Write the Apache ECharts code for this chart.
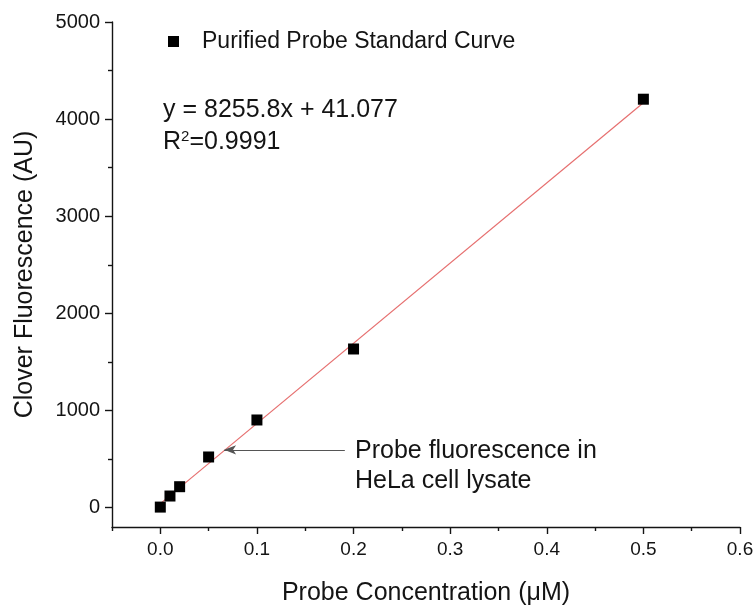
<!DOCTYPE html>
<html><head><meta charset="utf-8">
<script src="https://cdn.jsdelivr.net/npm/echarts@6/dist/echarts.min.js"></script>
<style>html,body{margin:0;padding:0;background:#fff}#c{width:753px;height:611px}</style>
</head><body><div id="c"></div>
<script>
const concX = [0, 0.01, 0.02, 0.05, 0.1, 0.2, 0.5];
const fluorY = [5, 119, 215, 521, 902, 1633, 4205];
const fitX = [0, 0.5];
const fitY = [41, 4169];
const lysatePoint = [0.066, 595];
const arrowTailX = 0.191;
const xTicks = [0, 0.1, 0.2, 0.3, 0.4, 0.5, 0.6];
const xMinorTicks = [-0.05, 0.05, 0.15, 0.25, 0.35, 0.45, 0.55];
const yTicks = [0, 1000, 2000, 3000, 4000, 5000];
const yMinorTicks = [500, 1500, 2500, 3500, 4500];

const font = 'Liberation Sans, Arial, sans-serif';
const ink = '#141414';
const chart = echarts.init(document.getElementById('c'));
const axCommon = {type: 'value', min: -0.05, max: 0.6, splitLine: {show: false}};
chart.setOption({
  animation: false,
  grid: {left: 112, right: 13, top: 22, bottom: 84, containLabel: false, outerBoundsMode: 'none'},
  legend: {
    data: ['Purified Probe Standard Curve'],
    left: 163, top: 25, icon: 'rect', itemWidth: 11, itemHeight: 11, itemGap: 10,
    textStyle: {fontFamily: font, fontSize: 23, color: ink, padding: [0, 0, 0, 18]}
  },
  xAxis: [
    Object.assign({}, axCommon, {
      name: 'Probe Concentration (\u03bcM)', nameLocation: 'middle', nameGap: 54,
      nameTextStyle: {fontFamily: font, fontSize: 25, color: ink},
      axisLine: {show: true, onZero: false, lineStyle: {color: ink, width: 1.4}},
      axisTick: {show: true, length: 7, customValues: xTicks, lineStyle: {color: ink, width: 1.4}},
      axisLabel: {customValues: xTicks, fontFamily: font, fontSize: 19, color: ink, margin: 13,
        formatter: v => v.toFixed(1)}
    }),
    Object.assign({}, axCommon, {
      position: 'bottom',
      axisLine: {show: false, onZero: false},
      axisTick: {show: true, length: 4, customValues: xMinorTicks, lineStyle: {color: ink, width: 1.4}},
      axisLabel: {show: false}
    })
  ],
  yAxis: [
    {
      type: 'value', min: -200, max: 5000, splitLine: {show: false},
      name: 'Clover Fluorescence (AU)', nameLocation: 'middle', nameGap: 74,
      nameTextStyle: {fontFamily: font, fontSize: 25, color: ink},
      axisLine: {show: true, onZero: false, lineStyle: {color: ink, width: 1.4}},
      axisTick: {show: true, length: 7, customValues: yTicks, lineStyle: {color: ink, width: 1.4}},
      axisLabel: {customValues: yTicks, fontFamily: font, fontSize: 20, color: ink, margin: 12,
        formatter: v => String(v)}
    },
    {
      type: 'value', min: -200, max: 5000, position: 'left', splitLine: {show: false},
      axisLine: {show: false, onZero: false},
      axisTick: {show: true, length: 4, customValues: yMinorTicks, lineStyle: {color: ink, width: 1.4}},
      axisLabel: {show: false}
    }
  ],
  series: [
    {
      name: 'fit', type: 'line', data: fitX.map((x, i) => [x, fitY[i]]),
      showSymbol: false, symbol: 'none', lineStyle: {color: '#e66f6f', width: 1.2}, z: 2,
      markLine: {
        silent: true, symbol: ['none', 'arrow'], symbolSize: [7, 12],
        lineStyle: {color: '#555', width: 1, type: 'solid'}, label: {show: false},
        data: [[{coord: [arrowTailX, lysatePoint[1]]}, {coord: lysatePoint}]]
      }
    },
    {
      name: 'Purified Probe Standard Curve', type: 'scatter', symbol: 'rect', symbolSize: 11,
      itemStyle: {color: '#000', opacity: 1}, data: concX.map((x, i) => [x, fluorY[i]]), z: 3
    }
  ],
  graphic: [
    {type: 'text', x: 163, y: 98, style: {text: 'y = 8255.8x + 41.077', font: '25px ' + font, fill: ink}},
    {type: 'text', x: 163, y: 129, style: {
      text: 'R{s|2}=0.9991', font: '25px ' + font, fill: ink,
      rich: {s: {fontSize: 15, fontFamily: font, verticalAlign: 'top', padding: [0, 0, 11, 0], fill: ink}}
    }},
    {type: 'text', x: 355, y: 439, style: {text: 'Probe fluorescence in', font: '25px ' + font, fill: ink}},
    {type: 'text', x: 355, y: 469, style: {text: 'HeLa cell lysate', font: '25px ' + font, fill: ink}}
  ]
});
</script></body></html>
